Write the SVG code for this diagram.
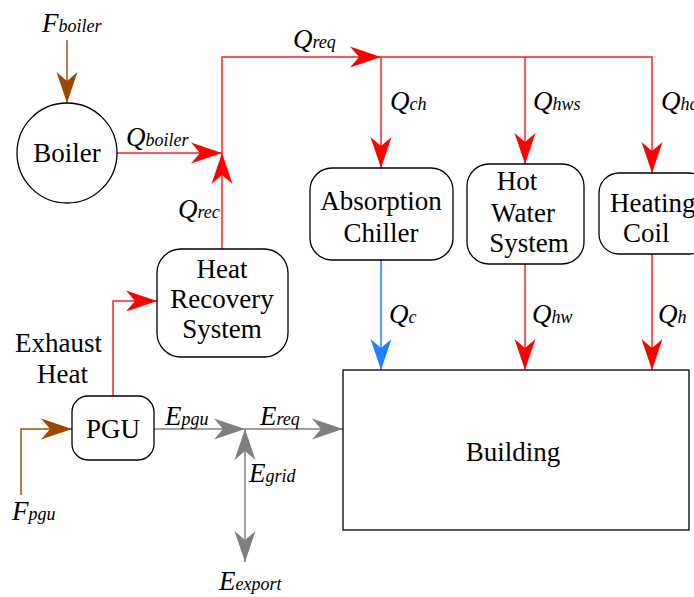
<svg xmlns="http://www.w3.org/2000/svg" width="694" height="597" viewBox="0 0 694 597" font-family="Liberation Serif, Tinos, Noto Serif, Times New Roman, Times, serif">
<style>
.box{fill:#fff;stroke:#000;stroke-width:1.3}
text{font-size:27px;fill:#000}
.l{font-style:italic}
.s{font-size:18px}
.red{stroke:#FF2020;stroke-width:1.5;fill:none}
.brn{stroke:#A0520A;stroke-width:1.5;fill:none}
.gry{stroke:#808080;stroke-width:1.5;fill:none}
.blu{stroke:#2080FF;stroke-width:1.5;fill:none}
</style>
<defs>
<marker id="mr" markerUnits="userSpaceOnUse" markerWidth="34" markerHeight="24" refX="31" refY="11" orient="auto-start-reverse" overflow="visible"><path d="M31,11 L0,0.5 L9,11 L0,21.5 Z" fill="#FF0000"/></marker>
<marker id="mb" markerUnits="userSpaceOnUse" markerWidth="34" markerHeight="24" refX="31" refY="11" orient="auto-start-reverse" overflow="visible"><path d="M31,11 L0,0.5 L9,11 L0,21.5 Z" fill="#9C4A00"/></marker>
<marker id="mg" markerUnits="userSpaceOnUse" markerWidth="34" markerHeight="24" refX="31" refY="11" orient="auto-start-reverse" overflow="visible"><path d="M31,11 L0,0.5 L9,11 L0,21.5 Z" fill="#7F7F7F"/></marker>
<marker id="mu" markerUnits="userSpaceOnUse" markerWidth="34" markerHeight="24" refX="31" refY="11" orient="auto-start-reverse" overflow="visible"><path d="M31,11 L0,0.5 L9,11 L0,21.5 Z" fill="#1E7FFF"/></marker>
</defs>
<g id="connectors">
<path class="brn" d="M67,40 V103" marker-end="url(#mb)"/>
<path class="red" d="M117,153 H222" marker-end="url(#mr)"/>
<path class="red" d="M222,249 V153" marker-end="url(#mr)"/>
<path class="red" d="M222,153 V57 H381" marker-end="url(#mr)"/>
<path class="red" d="M381,57 H652 V173" marker-end="url(#mr)"/>
<path class="red" d="M381,57 V168" marker-end="url(#mr)"/>
<path class="red" d="M525,57 V164" marker-end="url(#mr)"/>
<path class="red" d="M113,396 V301 H157" marker-end="url(#mr)"/>
<path class="blu" d="M381,260 V370" marker-end="url(#mu)"/>
<path class="red" d="M525,264 V370" marker-end="url(#mr)"/>
<path class="red" d="M652,254 V370" marker-end="url(#mr)"/>
<path class="brn" d="M21,495 V429 H72" marker-end="url(#mb)"/>
<path class="gry" d="M154,429 H245" marker-end="url(#mg)"/>
<path class="gry" d="M245,429 H343" marker-end="url(#mg)"/>
<path class="gry" d="M245,429 V562" marker-start="url(#mg)" marker-end="url(#mg)"/>
</g>
<g id="boiler"><circle class="box" cx="67" cy="153" r="50"/><text x="67" y="162" text-anchor="middle">Boiler</text></g>
<g id="hrs"><rect class="box" x="157" y="249" width="131" height="108" rx="24"/>
<text x="222" y="278" text-anchor="middle">Heat</text>
<text x="222" y="308" text-anchor="middle">Recovery</text>
<text x="222" y="338" text-anchor="middle">System</text></g>
<g id="chiller"><rect class="box" x="310" y="168" width="143" height="92" rx="22"/>
<text x="381" y="210" text-anchor="middle">Absorption</text>
<text x="381" y="242" text-anchor="middle">Chiller</text></g>
<g id="hws"><rect class="box" x="467" y="164" width="117" height="100" rx="22"/>
<text x="517" y="190" text-anchor="middle">Hot</text>
<text x="523" y="222" text-anchor="middle">Water</text>
<text x="529" y="252" text-anchor="middle">System</text></g>
<g id="coil"><rect class="box" x="599" y="173" width="110" height="81" rx="20"/>
<text x="610" y="212">Heating</text>
<text x="623" y="242">Coil</text></g>
<g id="pgu"><rect class="box" x="72" y="396" width="82" height="64" rx="16"/>
<text x="113" y="438" text-anchor="middle">PGU</text></g>
<g id="building"><rect class="box" x="343" y="370" width="346" height="160"/>
<text x="513" y="461" text-anchor="middle">Building</text></g>
<g id="labels">
<text x="15" y="352">Exhaust</text>
<text x="37" y="383">Heat</text>
<text class="l" x="42" y="32">F<tspan class="s">boiler</tspan></text>
<text class="l" x="126" y="146">Q<tspan class="s">boiler</tspan></text>
<text class="l" x="178" y="218">Q<tspan class="s">rec</tspan></text>
<text class="l" x="293" y="48">Q<tspan class="s">req</tspan></text>
<text class="l" x="390" y="110">Q<tspan class="s">ch</tspan></text>
<text class="l" x="533" y="110">Q<tspan class="s">hws</tspan></text>
<text class="l" x="661" y="110">Q<tspan class="s">hc</tspan></text>
<text class="l" x="389" y="323">Q<tspan class="s">c</tspan></text>
<text class="l" x="532" y="323">Q<tspan class="s">hw</tspan></text>
<text class="l" x="658" y="323">Q<tspan class="s">h</tspan></text>
<text class="l" x="165" y="425">E<tspan class="s">pgu</tspan></text>
<text class="l" x="260" y="425">E<tspan class="s">req</tspan></text>
<text class="l" x="249" y="482">E<tspan class="s">grid</tspan></text>
<text class="l" x="12" y="520">F<tspan class="s">pgu</tspan></text>
<text class="l" x="219" y="590">E<tspan class="s">export</tspan></text>
</g>
</svg>
